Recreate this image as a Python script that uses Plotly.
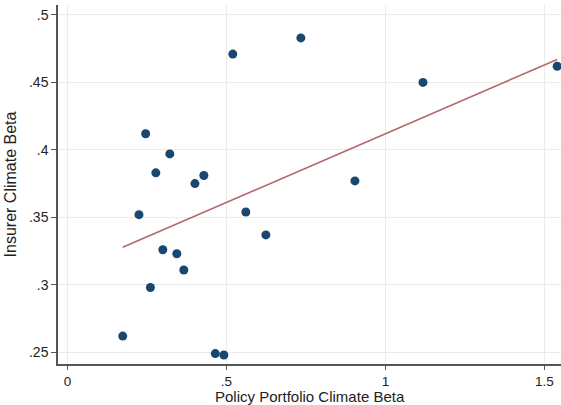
import numpy as np
import plotly.graph_objects as go

# Policy portfolio climate beta (x) and insurer climate beta (y)
policy_beta = [0.174, 0.225, 0.246, 0.261, 0.278, 0.300, 0.322, 0.344, 0.366, 0.401,
               0.429, 0.465, 0.492, 0.520, 0.561, 0.624, 0.734, 0.904, 1.118, 1.540]
insurer_beta = [0.262, 0.352, 0.412, 0.298, 0.383, 0.326, 0.397, 0.323, 0.311, 0.375,
                0.381, 0.249, 0.248, 0.471, 0.354, 0.337, 0.483, 0.377, 0.450, 0.462]

# Fitted-line coefficients (insurer beta = intercept + slope * policy beta)
fit_intercept = 0.3101
fit_slope = 0.1019

x_ticks = [0, 0.5, 1, 1.5]
x_tick_labels = ["0", ".5", "1", "1.5"]
y_ticks = [0.25, 0.30, 0.35, 0.40, 0.45, 0.50]
y_tick_labels = [".25", ".3", ".35", ".4", ".45", ".5"]

# Fitted line drawn across the observed x range
fit_x = np.array([min(policy_beta), max(policy_beta)])
fit_y = fit_intercept + fit_slope * fit_x

fig = go.Figure()
fig.add_trace(go.Scatter(
    x=fit_x, y=fit_y, mode="lines",
    line=dict(color="#b2696d", width=1.6),
    showlegend=False, hoverinfo="skip",
))
fig.add_trace(go.Scatter(
    x=policy_beta, y=insurer_beta, mode="markers",
    marker=dict(color="#1a476f", size=9, line=dict(width=0)),
    showlegend=False,
))

axis_font = dict(family="Liberation Sans, Arial, sans-serif", size=14, color="#222")
fig.update_layout(
    width=561, height=405,
    margin=dict(l=58, r=0, t=5, b=41),
    paper_bgcolor="white", plot_bgcolor="white",
    font=axis_font,
    xaxis=dict(
        range=[-0.0296, 1.552],
        tickvals=x_ticks, ticktext=x_tick_labels,
        showgrid=True, gridcolor="#ebebeb", gridwidth=1,
        zeroline=False,
        showline=True, linecolor="#555", linewidth=1.5,
        ticks="outside", ticklen=4, tickcolor="#555", tickwidth=1.2,
        tickfont=dict(size=13.5),
    ),
    yaxis=dict(
        range=[0.2413, 0.5074],
        tickvals=y_ticks, ticktext=y_tick_labels,
        showgrid=True, gridcolor="#ebebeb", gridwidth=1,
        zeroline=False,
        showline=True, linecolor="#555", linewidth=1.5,
        ticks="outside", ticklen=5, tickcolor="#555", tickwidth=1.2,
        tickfont=dict(size=14),
        title=dict(text="Insurer Climate Beta", font=dict(size=16), standoff=8),
    ),
    annotations=[dict(
        text="Policy Portfolio Climate Beta",
        xref="paper", yref="paper", x=0.5, y=0,
        xanchor="center", yanchor="top", yshift=-22,
        showarrow=False, font=dict(size=15),
    )],
)

fig.write_html("out.html")
